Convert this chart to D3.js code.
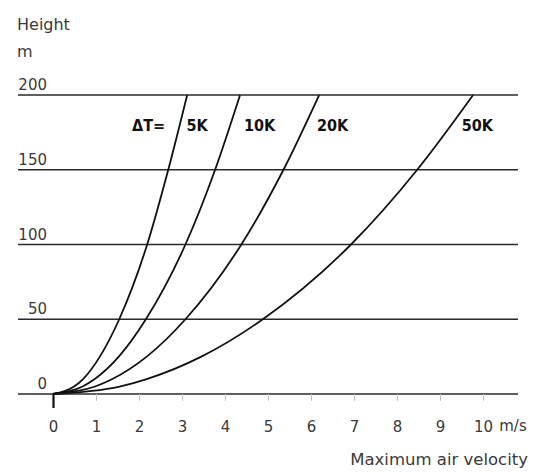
<!DOCTYPE html>
<html>
<head>
<meta charset="utf-8">
<script src="https://cdn.jsdelivr.net/npm/d3@7"></script>
<style>
  body { margin: 0; background: #fff; }
  text { font-family: "DejaVu Sans", sans-serif; fill: #3a3a3a; }
  .grid { stroke: #2a2a2a; stroke-width: 1.4; }
  .curve { fill: none; stroke: #111; stroke-width: 1.8; }
  .note { font-family: "DejaVu Sans Condensed", "DejaVu Sans", sans-serif; font-weight: bold; fill: #111; }
</style>
</head>
<body>
<script>
const heights = [0, 5, 10, 25, 50, 100, 150, 200]
const dT5 = [0, 0.49, 0.70, 1.09, 1.54, 2.19, 2.68, 3.12]
const dT10 = [0, 0.69, 0.97, 1.53, 2.16, 3.08, 3.77, 4.35]
const dT20 = [0, 0.98, 1.38, 2.18, 3.08, 4.38, 5.36, 6.19]
const dT50 = [0, 1.55, 2.18, 3.45, 4.88, 6.93, 8.47, 9.77]

const curveLabels = ['5K', '10K', '20K', '50K']
const xTicks = [0, 1, 2, 3, 4, 5, 6, 7, 8, 9, 10]
const yTicks = [0, 50, 100, 150, 200]

const width = 540
const height = 472

const x = d3.scaleLinear().domain([0, 10]).range([53, 483])
const y = d3.scaleLinear().domain([0, 200]).range([394, 95])

const svg = d3.select('body')
  .append('svg')
  .attr('width', width)
  .attr('height', height)

// horizontal grid lines
svg.append('g')
  .selectAll('line')
  .data(yTicks)
  .enter()
  .append('line')
  .attr('class', 'grid')
  .attr('x1', 18)
  .attr('x2', 518)
  .attr('y1', d => y(d))
  .attr('y2', d => y(d))

// y labels sit just above each line
svg.append('g')
  .selectAll('text')
  .data(yTicks)
  .enter()
  .append('text')
  .attr('x', 47)
  .attr('y', d => y(d) - 5)
  .attr('text-anchor', 'end')
  .attr('font-size', 15)
  .text(d => d)

// x axis ticks
const xAxis = d3.axisBottom(x)
  .tickValues(xTicks)
  .tickSize(7)
  .tickPadding(20)

const gx = svg.append('g')
  .attr('transform', `translate(0,${y(0)})`)
  .call(xAxis)
gx.select('.domain').remove()
gx.selectAll('.tick line')
  .attr('stroke', '#c4c4c4')
  .attr('stroke-width', 1)
gx.selectAll('.tick')
  .filter(d => d === 0)
  .select('line')
  .attr('stroke', '#111')
  .attr('stroke-width', 2.2)
  .attr('y2', 14)
gx.selectAll('.tick text')
  .attr('font-size', 15)
  .attr('font-family', null)
  .attr('fill', '#3a3a3a')

svg.append('text')
  .attr('x', 513)
  .attr('y', 431)
  .attr('text-anchor', 'middle')
  .attr('font-size', 15)
  .text('m/s')

svg.append('text')
  .attr('x', 528)
  .attr('y', 465)
  .attr('text-anchor', 'end')
  .attr('font-size', 16.5)
  .text('Maximum air velocity')

svg.append('text')
  .attr('x', 17)
  .attr('y', 30)
  .attr('font-size', 16)
  .text('Height')

svg.append('text')
  .attr('x', 17)
  .attr('y', 57)
  .attr('font-size', 16)
  .text('m')

// curves
const series = [dT5, dT10, dT20, dT50]
const line = d3.line()
  .x(d => x(d[0]))
  .y(d => y(d[1]))
  .curve(d3.curveMonotoneX)

svg.append('g')
  .selectAll('path')
  .data(series)
  .enter()
  .append('path')
  .attr('class', 'curve')
  .attr('d', s => line(s.map((v, i) => [v, heights[i]])))

// curve labels, placed just right of each curve
const labelH = 180
const labelGap = [7, 14, 12, 11]
const vAt = (s, h) => d3.scaleLinear().domain(heights).range(s)(h)
svg.append('g')
  .selectAll('text')
  .data(curveLabels)
  .enter()
  .append('text')
  .attr('class', 'note')
  .attr('x', (d, i) => x(vAt(series[i], labelH)) + labelGap[i])
  .attr('y', y(labelH) + 6)
  .attr('font-size', 16)
  .text(d => d)

svg.append('text')
  .attr('class', 'note')
  .attr('x', 132)
  .attr('y', y(labelH) + 6)
  .attr('font-size', 16)
  .text('ΔT=')
</script>
</body>
</html>
